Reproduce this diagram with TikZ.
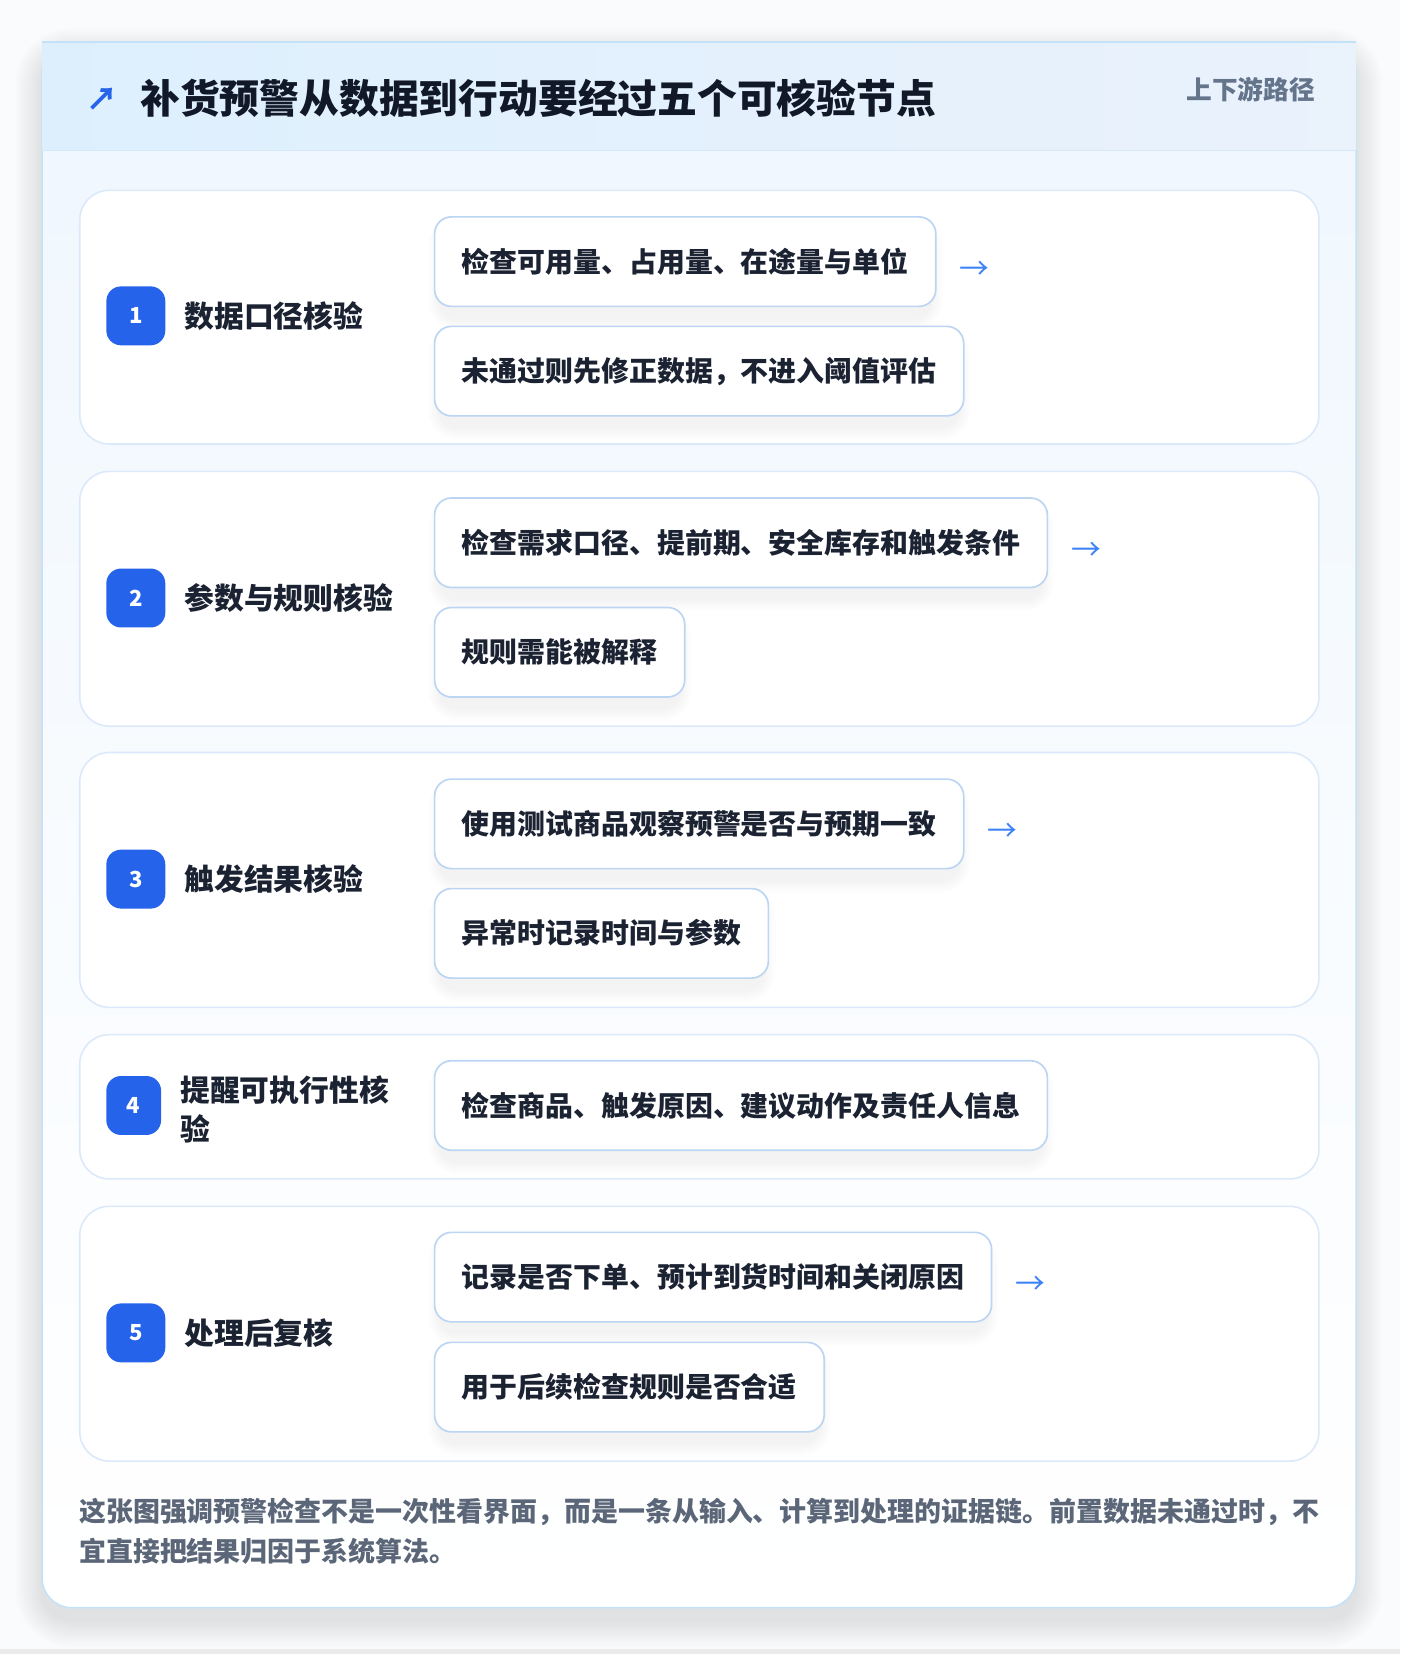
\documentclass[tikz,border=0pt]{standalone}
\usepackage{fontspec}
\setmainfont{Noto Sans CJK SC}
\usetikzlibrary{calc}
\definecolor{pagebg}{HTML}{FAFBFC}
\definecolor{cardborder}{HTML}{C4E2F7}
\definecolor{headL}{HTML}{DDEFFD}
\definecolor{headR}{HTML}{EAF2FC}
\definecolor{headline}{HTML}{D6E8F8}
\definecolor{bodytop}{HTML}{F0F7FE}
\definecolor{stageborder}{HTML}{DBE9FA}
\definecolor{boxborder}{HTML}{BCD5F2}
\definecolor{badgecol}{HTML}{2563EB}
\definecolor{titlecol}{HTML}{111827}
\definecolor{textcol}{HTML}{1B2232}
\definecolor{subcol}{HTML}{64748B}
\definecolor{footcol}{HTML}{5B6678}
\definecolor{arrowcol}{HTML}{3B82F6}
\definecolor{shadowcol}{HTML}{1E2A4A}
\pgfdeclarelayer{lzero}
\pgfdeclarelayer{lone}
\pgfdeclarelayer{ltwo}
\pgfsetlayers{lzero,lone,ltwo,main}
\newcommand{\boxshadow}[1]{%
  \foreach \k in {1,...,12}{%
    \fill[shadowcol, opacity=0.0045, rounded corners=16pt+\k pt]
      ($(#1.north west)+(6-\k,12-\k)$) rectangle ($(#1.south east)+(\k-6,10+\k)$);
  }}
\begin{document}
\begin{tikzpicture}[x=1pt,y=-1pt,
  stagecard/.style={draw=stageborder, line width=1.5pt, fill=white, rounded corners=28pt,
    minimum width=1177pt, anchor=north west, inner sep=0pt},
  badge/.style={fill=badgecol, rounded corners=14pt, minimum width=56pt, minimum height=56pt,
    inner sep=0pt, text=white, font=\bfseries\fontsize{21}{21}\selectfont},
  stitle/.style={anchor=west, inner sep=0pt, text=textcol, font=\bfseries\fontsize{28.3}{37}\selectfont,
    text height=24.9pt, text depth=3.4pt},
  stepbox/.style={anchor=west, draw=boxborder, line width=1.6pt, fill=white, rounded corners=16pt,
    inner xsep=26pt, inner ysep=0pt, minimum height=85pt, text=textcol,
    font=\bfseries\fontsize{26.5}{32}\selectfont, text height=23.3pt, text depth=3.2pt},
  arrowtxt/.style={anchor=west, inner sep=0pt, text=arrowcol, font=\fontsize{28.3}{34}\selectfont},
]
\useasboundingbox (0,0) rectangle (1330,1571);
\begin{pgfonlayer}{lzero}
  \fill[pagebg] (0,0) rectangle (1330,1571);
  \fill[black!8] (0,1566) rectangle (1330,1571);
  \foreach \k in {1,...,26}{%
    \fill[shadowcol, opacity=0.0035, rounded corners=28pt+\k pt]
      (40-\k,40-\k+12) rectangle (1288+\k,1527+\k+12);
  }
\end{pgfonlayer}
\begin{pgfonlayer}{lone}
  \begin{scope}
    \clip[rounded corners=28pt] (40,40) rectangle (1288,1527);
    \shade[top color=bodytop, bottom color=white, middle color=bodytop!45] (40,143) rectangle (1288,1527);
  \end{scope}
  \draw[cardborder, line width=1.5pt, rounded corners=28pt] (40,40) rectangle (1288,1527);
  \shade[left color=headL, right color=headR] (40,40) rectangle (1288,143);
  \draw[cardborder, line width=1.5pt] (40,40) -- (1288,40);
  \draw[headline, line width=1.5pt] (40,143) -- (1288,143);
  \node[stagecard, minimum height=241pt] (s1) at (75,180) {};
  \node[stagecard, minimum height=242pt] (s2) at (75,447) {};
  \node[stagecard, minimum height=242pt] (s3) at (75,714) {};
  \node[stagecard, minimum height=137pt] (s4) at (75,982) {};
  \node[stagecard, minimum height=242pt] (s5) at (75,1145) {};
\end{pgfonlayer}

% header
\node[anchor=west, inner sep=0pt, text=badgecol, font=\bfseries\fontsize{30}{30}\selectfont] (icon) at (82,94) {↗};
\node[anchor=west, inner sep=0pt, text=titlecol, font=\bfseries\fontsize{37.8}{40}\selectfont,
  text height=33.3pt, text depth=4.5pt] (title) at (133,93) {补货预警从数据到行动要经过五个可核验节点};
\node[anchor=east, inner sep=0pt, text=subcol, font=\bfseries\fontsize{24.4}{28}\selectfont,
  text height=21.5pt, text depth=2.9pt] (sub) at (1249,85) {上下游路径};

% stage 1
\node[badge] (b1) at (129,300) {1};
\node[stitle] (t1) at (175,300) {数据口径核验};
\node[stepbox] (p11) at (412,248.5) {检查可用量、占用量、在途量与单位};
\node[stepbox] (p12) at (412,352.5) {未通过则先修正数据，不进入阈值评估};
\node[arrowtxt] (a1) at ($(p11.east)+(22,8)$) {→};

% stage 2
\node[badge] (b2) at (129,568) {2};
\node[stitle] (t2) at (175,568) {参数与规则核验};
\node[stepbox] (p21) at (412,515.5) {检查需求口径、提前期、安全库存和触发条件};
\node[stepbox] (p22) at (412,619.5) {规则需能被解释};
\node[arrowtxt] (a2) at ($(p21.east)+(22,8)$) {→};

% stage 3
\node[badge] (b3) at (129,835) {3};
\node[stitle] (t3) at (175,835) {触发结果核验};
\node[stepbox] (p31) at (412,782.5) {使用测试商品观察预警是否与预期一致};
\node[stepbox] (p32) at (412,886.5) {异常时记录时间与参数};
\node[arrowtxt] (a3) at ($(p31.east)+(22,8)$) {→};

% stage 4
\node[badge, minimum width=52pt] (b4) at (127,1050) {4};
\node[anchor=west, inner sep=0pt, text=textcol, font=\bfseries\fontsize{28.3}{37}\selectfont,
  text width=205pt, align=left] (t4) at (171,1054) {提醒可执行性核\\验};
\node[stepbox] (p41) at (412,1050) {检查商品、触发原因、建议动作及责任人信息};

% stage 5
\node[badge] (b5) at (129,1266) {5};
\node[stitle] (t5) at (175,1266) {处理后复核};
\node[stepbox] (p51) at (412,1213) {记录是否下单、预计到货时间和关闭原因};
\node[stepbox] (p52) at (412,1317.5) {用于后续检查规则是否合适};
\node[arrowtxt] (a5) at ($(p51.east)+(22,8)$) {→};

% footer
\node[anchor=north west, inner sep=0pt, text=footcol, font=\bfseries\fontsize{25.6}{38}\selectfont,
  align=left] (foot) at (75,1423) {这张图强调预警检查不是一次性看界面，而是一条从输入、计算到处理的证据链。前置数据未通过时，不\\宜直接把结果归因于系统算法。};

\begin{pgfonlayer}{ltwo}
  \foreach \n in {p11,p12,p21,p22,p31,p32,p41,p51,p52}{\boxshadow{\n}}
\end{pgfonlayer}
\end{tikzpicture}
\end{document}
